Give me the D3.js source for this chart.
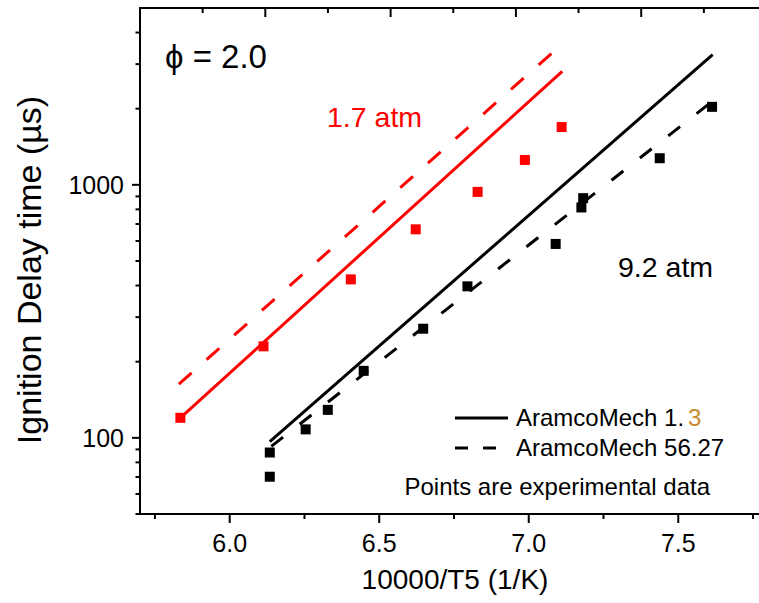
<!DOCTYPE html>
<html>
<head>
<meta charset="utf-8">
<script src="https://cdn.jsdelivr.net/npm/d3@7"></script>
<style>
  html, body { margin: 0; padding: 0; background: #fff; }
  svg { display: block; font-family: "Liberation Sans", Arial, sans-serif; }
</style>
</head>
<body>
<svg id="chart" width="759" height="603"></svg>
<script>
// ---- data ----
const xTickValues = [6.0, 6.5, 7.0, 7.5];
const yTickValues = [100, 1000];

// experimental points, 1.7 atm (red)
const red17X = [5.835, 6.113, 6.405, 6.622, 6.829, 6.987, 7.110];
const red17Y = [120, 230, 423, 667, 938, 1254, 1692];

// experimental points, 9.2 atm (black)
const blk92X = [6.134, 6.134, 6.254, 6.328, 6.448, 6.647, 6.795, 7.090, 7.176, 7.182, 7.438, 7.613];
const blk92Y = [87.5, 70.2, 108, 129, 184, 270, 397, 584, 814, 886, 1274, 2034];

// model lines: AramcoMech 1.3 (solid), AramcoMech 56.27 (dashed)
const red13X = [5.835, 7.112];
const red13Y = [120, 2810];
const red5627X = [5.830, 7.115];
const red5627Y = [163, 3630];
const blk13X = [6.134, 7.615];
const blk13Y = [96.7, 3268];
const blk5627X = [6.139, 7.610];
const blk5627Y = [92.5, 2120];

// top (secondary) axis tick units
const topAxisMax = 4.964;

// ---- layout ----
const svg = d3.select("#chart");
const pLeft = 140, pRight = 762, pTop = 8, pBottom = 514;

const x = d3.scaleLinear().domain([5.7, 7.78]).range([pLeft, pRight]);
const y = d3.scaleLog().domain([50, 5000]).range([pBottom, pTop]);
const xTop = d3.scaleLinear().domain([0, topAxisMax]).range([pLeft, pRight]);

const zip = (xs, ys) => xs.map((v, i) => [v, ys[i]]);
const line = d3.line().x(d => x(d[0])).y(d => y(d[1]));

// ---- model lines ----
const clipId = "plotclip";
svg.append("defs").append("clipPath").attr("id", clipId)
  .append("rect").attr("x", pLeft).attr("y", pTop).attr("width", pRight - pLeft).attr("height", pBottom - pTop);
const g = svg.append("g").attr("clip-path", `url(#${clipId})`);

g.append("path").datum(zip(red5627X, red5627Y)).attr("d", line)
  .attr("fill", "none").attr("stroke", "#ff0000").attr("stroke-width", 3)
  .attr("stroke-dasharray", "17,20");
g.append("path").datum(zip(red13X, red13Y)).attr("d", line)
  .attr("fill", "none").attr("stroke", "#ff0000").attr("stroke-width", 3);
g.append("path").datum(zip(blk5627X, blk5627Y)).attr("d", line)
  .attr("fill", "none").attr("stroke", "#000").attr("stroke-width", 3)
  .attr("stroke-dasharray", "15,21");
g.append("path").datum(zip(blk13X, blk13Y)).attr("d", line)
  .attr("fill", "none").attr("stroke", "#000").attr("stroke-width", 3);

// ---- points ----
const sq = 10;
g.selectAll("rect.red").data(zip(red17X, red17Y)).enter().append("rect")
  .attr("class", "red")
  .attr("x", d => x(d[0]) - sq / 2).attr("y", d => y(d[1]) - sq / 2)
  .attr("width", sq).attr("height", sq).attr("fill", "#ff0000");
g.selectAll("rect.blk").data(zip(blk92X, blk92Y)).enter().append("rect")
  .attr("class", "blk")
  .attr("x", d => x(d[0]) - sq / 2).attr("y", d => y(d[1]) - sq / 2)
  .attr("width", sq).attr("height", sq).attr("fill", "#000");

// ---- axes ----
const axisColor = "#000";
// bottom axis
const xMinor = d3.range(5.75, 7.8, 0.5);
const gx = svg.append("g");
gx.append("line").attr("x1", pLeft - 1).attr("x2", pRight).attr("y1", pBottom).attr("y2", pBottom)
  .attr("stroke", axisColor).attr("stroke-width", 2);
gx.selectAll("line.maj").data(xTickValues).enter().append("line").attr("class", "maj")
  .attr("x1", d => x(d)).attr("x2", d => x(d)).attr("y1", pBottom).attr("y2", pBottom + 9)
  .attr("stroke", axisColor).attr("stroke-width", 2);
gx.selectAll("line.min").data(xMinor).enter().append("line").attr("class", "min")
  .attr("x1", d => x(d)).attr("x2", d => x(d)).attr("y1", pBottom).attr("y2", pBottom + 5)
  .attr("stroke", axisColor).attr("stroke-width", 2);
gx.selectAll("text").data(xTickValues).enter().append("text")
  .attr("x", d => x(d)).attr("y", pBottom + 38).attr("text-anchor", "middle")
  .attr("font-size", 25).text(d => d3.format(".1f")(d));

// left axis (log)
const gy = svg.append("g");
gy.append("line").attr("x1", pLeft).attr("x2", pLeft).attr("y1", pTop - 1).attr("y2", pBottom + 1)
  .attr("stroke", axisColor).attr("stroke-width", 2);
const yMinor = [50, 60, 70, 80, 90, 200, 300, 400, 500, 600, 700, 800, 900, 2000, 3000, 4000];
gy.selectAll("line.maj").data(yTickValues).enter().append("line").attr("class", "maj")
  .attr("x1", pLeft - 8).attr("x2", pLeft).attr("y1", d => y(d)).attr("y2", d => y(d))
  .attr("stroke", axisColor).attr("stroke-width", 2);
gy.selectAll("line.min").data(yMinor).enter().append("line").attr("class", "min")
  .attr("x1", pLeft - 4.5).attr("x2", pLeft).attr("y1", d => y(d)).attr("y2", d => y(d))
  .attr("stroke", axisColor).attr("stroke-width", 2);
gy.selectAll("text").data(yTickValues).enter().append("text")
  .attr("x", pLeft - 16).attr("y", d => y(d) + 9).attr("text-anchor", "end")
  .attr("font-size", 25).text(d => d);

// top axis (ticks only, inward)
const gt = svg.append("g");
gt.append("line").attr("x1", pLeft - 1).attr("x2", pRight).attr("y1", pTop).attr("y2", pTop)
  .attr("stroke", axisColor).attr("stroke-width", 2);
const topMaj = d3.range(1, topAxisMax, 1);
const topMin = d3.range(0.5, topAxisMax, 1);
gt.selectAll("line.maj").data(topMaj).enter().append("line").attr("class", "maj")
  .attr("x1", d => xTop(d)).attr("x2", d => xTop(d)).attr("y1", pTop).attr("y2", pTop + 9)
  .attr("stroke", axisColor).attr("stroke-width", 2);
gt.selectAll("line.min").data(topMin).enter().append("line").attr("class", "min")
  .attr("x1", d => xTop(d)).attr("x2", d => xTop(d)).attr("y1", pTop).attr("y2", pTop + 5)
  .attr("stroke", axisColor).attr("stroke-width", 2);

// axis titles
svg.append("text").attr("x", 455).attr("y", 589).attr("text-anchor", "middle")
  .attr("font-size", 28).text("10000/T5 (1/K)");
svg.append("text").attr("transform", "translate(41,270) rotate(-90)")
  .attr("text-anchor", "middle").attr("font-size", 34).text("Ignition Delay time (µs)");

// annotations
svg.append("text").attr("x", 165).attr("y", 68).attr("font-size", 33).text("ϕ = 2.0");
svg.append("text").attr("x", 327).attr("y", 127).attr("font-size", 28.5).attr("fill", "#ff0000").text("1.7 atm");
svg.append("text").attr("x", 618).attr("y", 277).attr("font-size", 28.5).attr("fill", "#000").text("9.2 atm");

// legend
const lg = svg.append("g");
lg.append("line").attr("x1", 455).attr("x2", 508).attr("y1", 418).attr("y2", 418)
  .attr("stroke", "#000").attr("stroke-width", 3);
lg.append("line").attr("x1", 455).attr("x2", 508).attr("y1", 448).attr("y2", 448)
  .attr("stroke", "#000").attr("stroke-width", 3).attr("stroke-dasharray", "13,15");
const t1 = lg.append("text").attr("x", 516).attr("y", 426).attr("font-size", 24).text("AramcoMech 1.");
t1.append("tspan").attr("dx", 4).attr("fill", "#c98a2c").text("3");
lg.append("text").attr("x", 516).attr("y", 456).attr("font-size", 24).text("AramcoMech 56.27");
lg.append("text").attr("x", 710).attr("y", 495).attr("text-anchor", "end").attr("font-size", 24)
  .text("Points are experimental data");
</script>
</body>
</html>
